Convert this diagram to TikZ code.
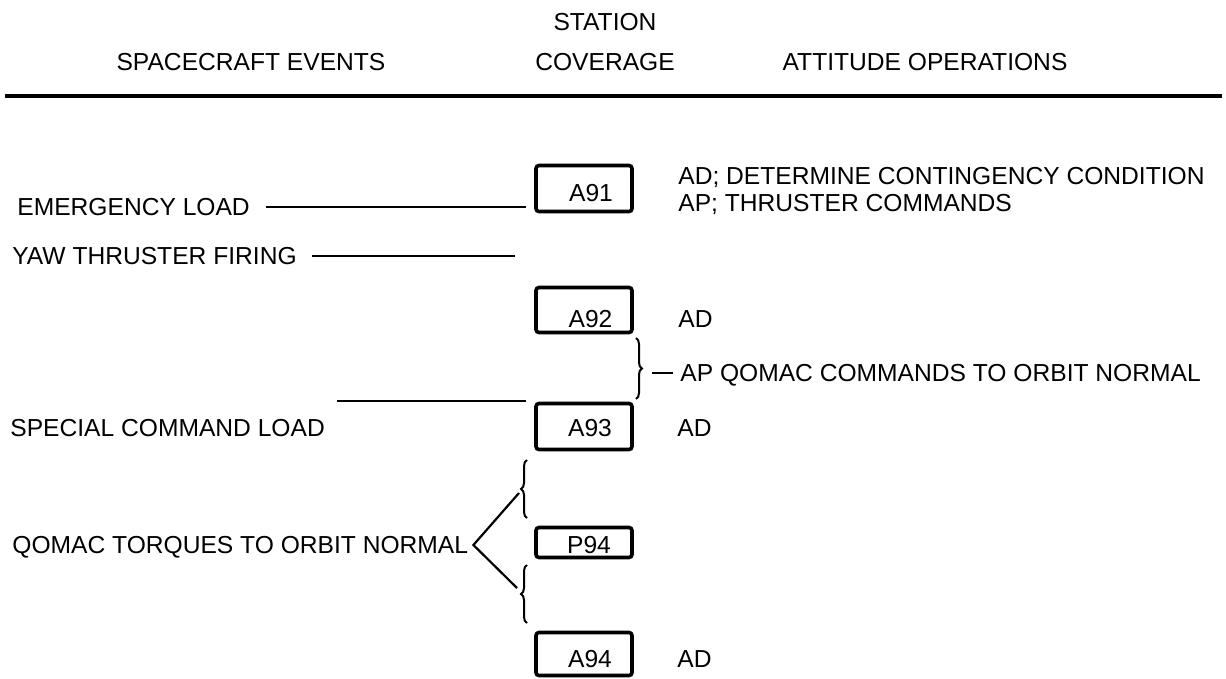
\documentclass[tikz,border=0pt]{standalone}
\usepackage{fontspec}
\setmainfont{Liberation Sans}
\usetikzlibrary{positioning,decorations.pathreplacing,calc}
\tikzset{
  hdr/.style   ={inner sep=0pt,text height=8.8pt,text depth=0pt,font=\fontsize{12.3}{14}\selectfont},
  evt/.style   ={hdr,anchor=west},
  stnbox/.style={rectangle,rounded corners=1.5pt,draw,line width=1.8pt,
                 minimum width=48pt,inner sep=0pt},
  tie/.style   ={line width=1.1pt},
  brc/.style   ={line width=1pt,decorate,decoration={brace,amplitude=3pt}},
}
\begin{document}
\begin{tikzpicture}[x=0.5pt,y=-0.5pt]
  \useasboundingbox (0,0) rectangle (1226,679);
  % column heads
  \node[hdr] (hevt) at (251,62) {SPACECRAFT EVENTS};
  \node[hdr] (hstn) at (605,22) {STATION};
  \node[hdr] (hcov) at (605,62) {COVERAGE};
  \node[hdr] (hatt) at (925,62) {ATTITUDE OPERATIONS};
  \coordinate (rulel) at (5,96);
  \coordinate (ruler) at (1222,96);
  \draw[line width=2pt] (rulel) -- (ruler);
  % station passes
  \node[stnbox,minimum height=23pt]   (a91) at (584,188.5) {};
  \node[stnbox,minimum height=22.5pt] (a92) at (584,310) {};
  \node[stnbox,minimum height=23pt]   (a93) at (584,426.5) {};
  \node[stnbox,minimum height=15pt]   (p94) at (584,542.5) {};
  \node[stnbox,minimum height=21.5pt] (a94) at (584,654) {};
  \node[hdr] (a91t) at (591,193) {A91};
  \node[hdr] (a92t) at (590.5,319) {A92};
  \node[hdr] (a93t) at (590,428) {A93};
  \node[hdr] (p94t) at (589,545) {P94};
  \node[hdr] (a94t) at (590,659) {A94};
  % spacecraft events
  \node[evt] (emerg) at (17,207) {EMERGENCY LOAD};
  \node[evt] (yaw)   at (12,256) {YAW THRUSTER FIRING};
  \node[evt] (scl)   at (10,428) {SPECIAL COMMAND LOAD};
  \node[evt] (qtorq) at (12,545) {QOMAC TORQUES TO ORBIT NORMAL};
  \coordinate (yawend) at (515,256);
  \coordinate (sclbeg) at (337,401);
  \draw[tie] ([xshift=8pt]emerg.east) -- ([xshift=-4pt]emerg.east -| a91.west);
  \draw[tie] ([xshift=7.5pt]yaw.east) -- (yawend);
  \draw[tie] (sclbeg) -- ([xshift=-4pt]sclbeg -| a93.west);
  % attitude operations
  \node[evt] (ad91)  at (678,176) {AD; DETERMINE CONTINGENCY CONDITION};
  \node[evt] (ap91)  at (678,203) {AP; THRUSTER COMMANDS};
  \node[evt] (ad92)  at (678,319) {AD};
  \node[evt] (apq)   at (680,373) {AP QOMAC COMMANDS TO ORBIT NORMAL};
  \node[evt] (ad93)  at (677,428) {AD};
  \node[evt] (ad94)  at (677,659) {AD};
  % braces
  \draw[brc] (636,338) -- (636,399);
  \coordinate (qtip) at (652,373);
  \draw[tie] (qtip) -- ([xshift=-3.5pt]apq.west);
  \draw[brc] (527,518) -- (527,460);
  \draw[brc] (527,623) -- (527,565);
  \coordinate (tqu) at (519,493);
  \coordinate (tql) at (517,588);
  \draw[tie] (tqu) -- ([xshift=2.5pt]qtorq.east) -- (tql);
\end{tikzpicture}
\end{document}
